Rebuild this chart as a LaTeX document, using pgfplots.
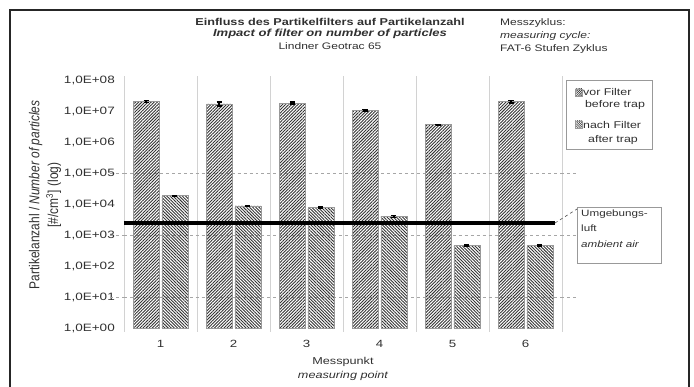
\documentclass[border=0pt]{standalone}
\usepackage{fontspec}
\setmainfont{Liberation Sans}
\usepackage{graphicx}
\usepackage{pgfplots}
\pgfplotsset{compat=1.18}
\usetikzlibrary{patterns.meta}
\definecolor{txt}{HTML}{303030}
\newcommand{\sx}[1]{\scalebox{1.27}[1]{#1}}
\newcommand{\fs}[1]{\fontsize{#1}{#1}\selectfont}
\begin{document}
\begin{tikzpicture}
\path[use as bounding box] (-124bp,-59bp) rectangle (570bp,328bp);
\draw[line width=1.6bp, black!85] (-114bp,-59bp) -- (-114bp,318bp) -- (565bp,318bp) -- (565bp,-59bp);
\begin{axis}[
  scale only axis, width=438bp, height=248bp,
  ymode=log, ymin=1, ymax=1e8,
  xmin=-0.5, xmax=5.5,
  axis line style={draw=none},
  tick align=outside,
  major tick length=0pt,
  minor tick length=4bp,
  xtick={0,...,5}, xticklabels={\sx{1},\sx{2},\sx{3},\sx{4},\sx{5},\sx{6}},
  minor xtick={-0.5,0.5,1.5,2.5,3.5,4.5,5.5},
  xminorgrids, minor x grid style={gray!35, line width=0.8bp},
  minor tick style={gray!35, line width=0.8bp},
  yminorticks=false,
  ytick={1,10,100,1000,10000,100000,1000000,10000000,100000000},
  yticklabels={\sx{1,0E+00},\sx{1,0E+01},\sx{1,0E+02},\sx{1,0E+03},\sx{1,0E+04},\sx{1,0E+05},\sx{1,0E+06},\sx{1,0E+07},\sx{1,0E+08}},
  extra y ticks={10,1000,100000},
  extra y tick labels={},
  extra y tick style={grid=major, major grid style={dashed, gray!70, line width=0.6bp}, major tick length=14bp, tick style={dashed, gray!70, line width=0.6bp}},
  yticklabel style={anchor=east, inner sep=0pt, xshift=-9bp, font=\fs{10.7}, text=txt},
  xticklabel style={anchor=north, inner sep=0pt, yshift=-12bp, font=\fs{10.5}, text=txt},
  clip=false,
]
\addplot[ybar, bar width=26bp, bar shift=0pt, draw=gray!80, line width=0.6bp,
  pattern={Lines[angle=45,distance=2.2bp,line width=0.9bp]}, pattern color=black!80,
  error bars/.cd, y dir=both, y explicit,
  error bar style={black, line width=1.5bp},
  error mark options={black, line width=1.5bp, mark size=2.5bp, rotate=90}]
coordinates {(-0.1986,2.0e7) +- (0,1.5e6) (0.8014,1.7e7) +- (0,2.5e6) (1.8014,1.8e7) +- (0,1.2e6) (2.8014,1.05e7) +- (0,6e5) (3.8014,3.6e6) +- (0,1e5) (4.8014,2.0e7) +- (0,2e6)};
\addplot[ybar, bar width=26bp, bar shift=0pt, draw=gray!80, line width=0.6bp,
  pattern={Lines[angle=-45,distance=2.2bp,line width=0.9bp]}, pattern color=black!80,
  error bars/.cd, y dir=both, y explicit,
  error bar style={black, line width=1.5bp},
  error mark options={black, line width=1.5bp, mark size=2.5bp, rotate=90}]
coordinates {(0.1986,1.85e4) +- (0,5e2) (1.1986,8.7e3) +- (0,2e2) (2.1986,7.7e3) +- (0,4e2) (3.1986,4.0e3) +- (0,3e2) (4.1986,4.5e2) +- (0,2.5e1) (5.1986,4.5e2) +- (0,2e1)};
\addplot[black, line width=4bp] coordinates {(-0.5,2400) (5.4,2400)};
\end{axis}
% titles
\node[font=\fs{10}\bfseries, text=txt] at (206bp,306bp) {\sx{Einfluss des Partikelfilters auf Partikelanzahl}};
\node[font=\fs{10.3}\itshape\bfseries, text=txt] at (206bp,294bp) {\sx{Impact of filter on number of particles}};
\node[font=\fs{9.5}, text=txt] at (206bp,282bp) {\sx{Lindner Geotrac 65}};
\node[font=\fs{9.5}, text=txt, anchor=west, inner sep=0pt] at (376bp,305bp) {\sx{Messzyklus:}};
\node[font=\fs{9.5}\itshape, text=txt, anchor=west, inner sep=0pt] at (376bp,292bp) {\sx{measuring cycle:}};
\node[font=\fs{9.5}, text=txt, anchor=west, inner sep=0pt] at (376bp,279bp) {\sx{FAT-6 Stufen Zyklus}};
% y label
\node[rotate=90, align=center, font=\fs{12}, text=txt] at (-79bp,133bp) {\scalebox{1}[1.2]{Partikelanzahl / \textit{Number of particles}}\\[3bp]\scalebox{1}[1.2]{{[}\#/cm\textsuperscript{3}{]} (log)}};
% x label
\node[font=\fs{10}, text=txt] at (219bp,-34bp) {\sx{Messpunkt}};
\node[font=\fs{10}\itshape, text=txt] at (219bp,-48bp) {\sx{measuring point}};
% legend
\draw[gray!80, line width=0.8bp, fill=white] (442bp,248bp) rectangle (528bp,179bp);
\draw[gray!80, pattern={Lines[angle=45,distance=1.6bp,line width=0.6bp]}, pattern color=black!80] (451bp,232bp) rectangle (458bp,239bp);
\node[font=\fs{9.8}, text=txt, anchor=west, inner sep=0pt] at (459bp,236bp) {\sx{vor Filter}};
\node[font=\fs{9.8}, text=txt] at (491bp,223bp) {\sx{before trap}};
\draw[gray!80, pattern={Lines[angle=-45,distance=1.6bp,line width=0.6bp]}, pattern color=black!80] (451bp,200bp) rectangle (458bp,207bp);
\node[font=\fs{9.8}, text=txt, anchor=west, inner sep=0pt] at (459bp,203bp) {\sx{nach Filter}};
\node[font=\fs{9.8}, text=txt] at (489bp,188bp) {\sx{after trap}};
% annotation
\draw[gray!80, line width=0.8bp] (453bp,121bp) rectangle (537bp,65bp);
\draw[black!70, dashed, line width=0.6bp] (431bp,105bp) -- (453bp,119bp);
\node[font=\fs{9.2}, text=txt, anchor=west, inner sep=0pt] at (457bp,114bp) {\sx{Umgebungs-}};
\node[font=\fs{9.2}, text=txt, anchor=west, inner sep=0pt] at (457bp,100bp) {\sx{luft}};
\node[font=\fs{9.2}\itshape, text=txt, anchor=west, inner sep=0pt] at (457bp,84bp) {\sx{ambient air}};
\end{tikzpicture}
\end{document}
